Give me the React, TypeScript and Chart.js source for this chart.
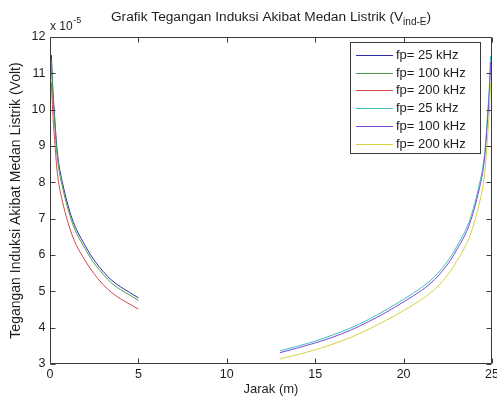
import React, { useEffect, useRef } from 'react';
import { Chart, registerables } from 'chart.js';

Chart.register(...registerables);

// Distances (m)
const xLeft = [0.08, 0.12, 0.18, 0.25, 0.38, 0.5, 0.7, 1.0, 1.25, 1.5, 2.0, 2.3, 3.0, 3.5, 4.0, 4.5, 5.0];
const xRight = [13, 14, 15, 16, 17, 18, 19, 20, 21, 21.5, 22, 22.7, 23, 23.5, 23.75, 24, 24.3, 24.5, 24.62, 24.75, 24.82, 24.88, 24.92];

// Induced voltage (x 10^-5 Volt)
const left25 = [11.5, 11.0, 10.4, 9.9, 9.0, 8.5, 8.0, 7.4, 7.0, 6.7, 6.25, 6.0, 5.55, 5.3, 5.12, 4.97, 4.82];
const left100 = [11.33, 10.84, 10.24, 9.75, 8.87, 8.37, 7.88, 7.29, 6.9, 6.6, 6.16, 5.91, 5.47, 5.22, 5.04, 4.9, 4.75];
const left200 = [10.75, 10.29, 9.72, 9.26, 8.42, 7.95, 7.48, 6.92, 6.55, 6.26, 5.84, 5.61, 5.19, 4.96, 4.79, 4.65, 4.51];
const right25 = [3.36, 3.49, 3.63, 3.8, 3.99, 4.22, 4.49, 4.78, 5.1, 5.29, 5.53, 5.98, 6.23, 6.68, 6.98, 7.38, 7.98, 8.48, 8.98, 9.88, 10.38, 10.98, 11.48];
const right100 = [3.31, 3.44, 3.58, 3.74, 3.93, 4.16, 4.42, 4.71, 5.02, 5.21, 5.45, 5.89, 6.14, 6.58, 6.88, 7.27, 7.86, 8.35, 8.85, 9.73, 10.22, 10.82, 11.31];
const right200 = [3.14, 3.26, 3.39, 3.55, 3.73, 3.95, 4.2, 4.47, 4.77, 4.95, 5.17, 5.59, 5.83, 6.25, 6.53, 6.9, 7.46, 7.93, 8.4, 9.24, 9.71, 10.27, 10.73];

const seriesLabels = ['fp= 25 kHz', 'fp= 100 kHz', 'fp= 200 kHz', 'fp= 25 kHz', 'fp= 100 kHz', 'fp= 200 kHz'];
const seriesColors = ['#2c2ca8', '#4aa04a', '#d44848', '#40c0c0', '#7a48d8', '#d8d040'];

const xTicks = [0, 5, 10, 15, 20, 25];
const yTicks = [3, 4, 5, 6, 7, 8, 9, 10, 11, 12];

const titleMain = 'Grafik Tegangan Induksi Akibat Medan Listrik (V';
const titleSub = 'ind-E';
const titleEnd = ')';
const xTitle = 'Jarak (m)';
const yTitle = 'Tegangan Induksi Akibat Medan Listrik (Volt)';

const FONT = '"Liberation Sans", Arial, Helvetica, sans-serif';
const AXIS_COLOR = '#3c3c3c';
const TEXT_COLOR = '#1e1e1e';

const seriesX = [xLeft, xLeft, xLeft, xRight, xRight, xRight];
const seriesY = [left25, left100, left200, right25, right100, right200];

const matlabPlugin = {
  id: 'matlabDecor',
  afterDatasetsDraw(chart: any) {
    const { ctx, chartArea: a, scales } = chart;
    const xs = scales.x;
    const ys = scales.y;
    const L = Math.round(a.left) + 0.5;
    const R = Math.round(a.right) - 0.5;
    const T = Math.round(a.top) + 0.5;
    const B = Math.round(a.bottom) - 0.5;
    const tl = 5;
    ctx.save();
    ctx.strokeStyle = AXIS_COLOR;
    ctx.lineWidth = 1;
    ctx.beginPath();
    ctx.rect(L, T, R - L, B - T);
    xTicks.forEach((t) => {
      const px = Math.round(xs.getPixelForValue(t)) + 0.5;
      ctx.moveTo(px, B);
      ctx.lineTo(px, B - tl);
      ctx.moveTo(px, T);
      ctx.lineTo(px, T + tl);
    });
    yTicks.forEach((t) => {
      const py = Math.round(ys.getPixelForValue(t)) + 0.5;
      ctx.moveTo(L, py);
      ctx.lineTo(L + tl, py);
      ctx.moveTo(R, py);
      ctx.lineTo(R - tl, py);
    });
    ctx.stroke();

    // Tick labels
    ctx.fillStyle = TEXT_COLOR;
    ctx.font = `12.5px ${FONT}`;
    ctx.textAlign = 'center';
    ctx.textBaseline = 'top';
    xTicks.forEach((t) => {
      ctx.fillText(String(t), xs.getPixelForValue(t), B + 5);
    });
    ctx.textAlign = 'right';
    ctx.textBaseline = 'middle';
    yTicks.forEach((t) => {
      ctx.fillText(String(t), L - 5, ys.getPixelForValue(t));
    });
    ctx.restore();
  },
  afterDraw(chart: any) {
    const { ctx, chartArea: a } = chart;
    const cx = (a.left + a.right) / 2;
    ctx.save();
    ctx.fillStyle = TEXT_COLOR;
    ctx.textBaseline = 'alphabetic';

    // Title with subscript
    const mainFont = `13.7px ${FONT}`;
    const subFont = `10px ${FONT}`;
    ctx.font = mainFont;
    const w1 = ctx.measureText(titleMain).width;
    const w3 = ctx.measureText(titleEnd).width;
    ctx.font = subFont;
    const w2 = ctx.measureText(titleSub).width;
    let tx = cx - (w1 + w2 + w3) / 2;
    const tBase = 21;
    ctx.textAlign = 'left';
    ctx.font = mainFont;
    ctx.fillText(titleMain, tx, tBase);
    tx += w1;
    ctx.font = subFont;
    ctx.fillText(titleSub, tx, tBase + 4);
    tx += w2;
    ctx.font = mainFont;
    ctx.fillText(titleEnd, tx, tBase);

    // Exponent label
    ctx.font = `12px ${FONT}`;
    ctx.fillText('x 10', a.left, 30);
    const wx = ctx.measureText('x 10').width;
    ctx.font = `9px ${FONT}`;
    ctx.fillText('-5', a.left + wx + 0.5, 23);

    // Axis titles
    ctx.font = `13px ${FONT}`;
    ctx.textAlign = 'center';
    ctx.textBaseline = 'middle';
    ctx.fillText(xTitle, cx, 389);
    ctx.font = `14px ${FONT}`;
    ctx.save();
    ctx.translate(16, (a.top + a.bottom) / 2);
    ctx.rotate(-Math.PI / 2);
    ctx.fillText(yTitle, 0, 0);
    ctx.restore();

    // Legend
    const lx = 350.5;
    const ly = 42.5;
    const lw = 130;
    const lh = 111;
    ctx.fillStyle = '#ffffff';
    ctx.fillRect(lx, ly, lw, lh);
    ctx.strokeStyle = AXIS_COLOR;
    ctx.lineWidth = 1;
    ctx.strokeRect(lx, ly, lw, lh);
    ctx.font = `13px ${FONT}`;
    ctx.textAlign = 'left';
    ctx.textBaseline = 'middle';
    seriesLabels.forEach((lab, i) => {
      const ry = Math.round(55 + i * 17.7) + 0.5;
      ctx.strokeStyle = seriesColors[i];
      ctx.beginPath();
      ctx.moveTo(356, ry);
      ctx.lineTo(393, ry);
      ctx.stroke();
      ctx.fillStyle = TEXT_COLOR;
      ctx.fillText(lab, 396, ry);
    });
    ctx.restore();
  },
};

export default function App() {
  const canvasRef = useRef<HTMLCanvasElement | null>(null);

  useEffect(() => {
    const canvas = canvasRef.current;
    if (!canvas) return;
    const datasets = seriesY.map((ys, i) => ({
      label: seriesLabels[i],
      data: ys.map((v, j) => ({ x: seriesX[i][j], y: v })),
      borderColor: seriesColors[i],
      backgroundColor: seriesColors[i],
      borderWidth: 1,
      pointRadius: 0,
      fill: false,
      cubicInterpolationMode: 'monotone' as const,
      order: -i,
    }));
    const chart = new Chart(canvas, {
      type: 'line',
      data: { datasets },
      options: {
        responsive: false,
        animation: false,
        devicePixelRatio: 1,
        layout: { padding: { top: 37, right: 5, left: 50, bottom: 36 } },
        plugins: {
          legend: { display: false },
          title: { display: false },
          tooltip: { enabled: false },
        },
        scales: {
          x: { type: 'linear', min: 0, max: 25, display: false },
          y: { type: 'linear', min: 3, max: 12, display: false },
        },
      },
      plugins: [matlabPlugin],
    });
    return () => chart.destroy();
  }, []);

  return (
    <div style={{ position: 'fixed', left: 0, top: 0, width: 497, height: 400, background: '#ffffff' }}>
      <canvas ref={canvasRef} width={497} height={400} style={{ width: 497, height: 400, display: 'block' }} />
    </div>
  );
}
